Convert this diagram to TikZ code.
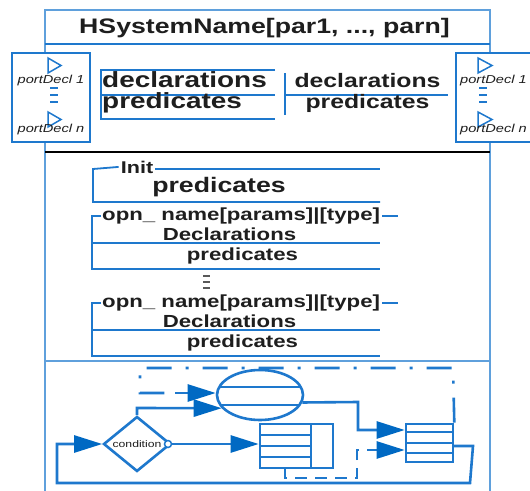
\documentclass[tikz,border=0pt]{standalone}
\usepackage{fontspec}
\setmainfont{Liberation Sans}
\newfontfamily\wf[FakeStretch=1.27]{Liberation Sans}
\usetikzlibrary{arrows.meta,shapes.geometric}
\definecolor{lb}{RGB}{30,120,205}
\definecolor{fr}{RGB}{95,160,220}
\definecolor{ab}{RGB}{0,105,195}
\definecolor{tx}{RGB}{30,30,30}
\newcommand{\fsz}[1]{\fontsize{#1pt}{#1pt}\selectfont}
\begin{document}
\begin{tikzpicture}[x=1pt,y=-1pt,
  ln/.style={draw=lb,line width=1.8pt},
  dl/.style={draw=lb,line width=2.6pt},
  arr/.style={draw=lb,line width=2.6pt,-{Triangle[length=28pt 0,width=17pt 0,color=ab]}},
  tb/.style={font=\wf\bfseries, inner sep=0pt, text=tx},
  tbox/.style={ln,fill=white,inner sep=0pt},
  tri/.style={draw=lb,line width=1.5pt},
  shortdash/.style={draw=lb,line width=1.5pt}
]
\clip (0,0) rectangle (530,490);
\fill[white] (0,0) rectangle (530,490);
% frame
\draw[fr,line width=2pt] (45,10) rectangle (490,500);
\draw[lb,line width=1.5pt] (45,44) -- (490,44);
\draw[black,line width=1.5pt] (45,152) -- (490,152);
\draw[fr,line width=1.5pt] (45,361) -- (490,361);
\node[tb,font=\wf\bfseries\fsz{21},anchor=base] (title) at (264.5,33) {HSystemName[par1, ..., parn]};

% port boxes
\node[tbox,minimum width=78,minimum height=89] (pl) at (51,97.5) {};
\node[tbox,minimum width=84,minimum height=89] (pr) at (498,97.5) {};
\draw[tri] (48,58) -- (61,65.5) -- (48,73) -- cycle;
\draw[tri] (48,112) -- (61,119.5) -- (48,127) -- cycle;
\draw[tri] (478,58) -- (492,65.5) -- (478,73) -- cycle;
\draw[tri] (478,112) -- (492,119.5) -- (478,127) -- cycle;
\foreach \yy in {88,95,102} {\draw[shortdash] (50,\yy) -- (58,\yy); \draw[shortdash] (479,\yy) -- (487,\yy);}
\node[font=\wf\itshape\fsz{11.5},text=tx,inner sep=0pt] (pl1) at (51,81) {portDecl 1};
\node[font=\wf\itshape\fsz{11.5},text=tx,inner sep=0pt] (pln) at (51,130) {portDecl n};
\node[font=\wf\itshape\fsz{11.5},text=tx,inner sep=0pt,anchor=west] (pr1) at (460,81) {portDecl 1};
\node[font=\wf\itshape\fsz{11.5},text=tx,inner sep=0pt,anchor=west] (prn) at (460,130) {portDecl n};

% left schema
\draw[ln] (275,70) -- (101,70) -- (101,119) -- (275,119);
\draw[ln] (101,95) -- (275,95);
\node[tb,font=\wf\bfseries\fsz{22},anchor=base west] (d1) at (102,87) {declarations};
\node[tb,font=\wf\bfseries\fsz{22},anchor=base west] (p1) at (102,108) {predicates};
% right schema
\draw[ln] (285,73) -- (285,115);
\draw[ln] (285,95) -- (448,95);
\node[tb,font=\wf\bfseries\fsz{19.5},anchor=base] (d2) at (367.5,87) {declarations};
\node[tb,font=\wf\bfseries\fsz{19.5},anchor=base] (p2) at (367.5,108) {predicates};

% Init schema
\node[tb,font=\wf\bfseries\fsz{17},anchor=base] (init) at (137,173) {Init};
\draw[ln] (init.west) ++(-2,0) -- (93,169) -- (93,202) -- (380,202);
\draw[ln] (155,169) -- (380,169);
\node[tb,font=\wf\bfseries\fsz{21},anchor=base] (ip) at (219,192) {predicates};

% operation schemas
\foreach \t/\nm in {216/a,303/b} {
  \node[tb,font=\wf\bfseries\fsz{17.5},anchor=west] (op\nm) at (102,\t) {opn\_ name[params]|[type]};
  \draw[ln] (op\nm.west) ++(-1,0) -- (92,\t) -- (92,\t+53) -- (380,\t+53);
  \draw[ln] (op\nm.east) ++(2,0) -- (398,\t);
  \draw[ln] (92,\t+27) -- (380,\t+27);
  \node[tb,font=\wf\bfseries\fsz{17.5},anchor=base] (dc\nm) at (229.5,\t+24) {Declarations};
  \node[tb,font=\wf\bfseries\fsz{17.5},anchor=base] (pc\nm) at (242.5,\t+44) {predicates};
}
\foreach \yy in {276,282,288} {\draw[gray!70!black,line width=1.2pt] (203,\yy) -- (210,\yy);}

% bottom diagram
\node[ellipse,dl,minimum width=86,minimum height=50,inner sep=0pt] (el) at (260,395) {};
\draw[dl] (220,387) -- (300,387);
\draw[dl] (221,405) -- (299,405);
\node[diamond,dl,minimum width=67,minimum height=55,inner sep=0pt,aspect=1.2,
      font=\wf\fsz{9.6},text=tx] (dia) at (137,444) {condition};
\node[circle,draw=lb,line width=1.5pt,fill=white,minimum size=7,inner sep=0pt] (oc) at (168,444) {};
% left table
\node[dl,rectangle,minimum width=73,minimum height=44,inner sep=0pt] (lt) at (296.5,446) {};
\draw[dl] (311,424) -- (311,468);
\foreach \yy in {435,446,457} {\draw[dl] (260,\yy) -- (311,\yy);}
% right table
\node[dl,rectangle,minimum width=47,minimum height=38,inner sep=0pt] (rt) at (429.5,443) {};
\foreach \yy in {432,443,453} {\draw[dl] (406,\yy) -- (454,\yy);}

\coordinate (c1) at (453,368);
\coordinate (c2) at (140,368);
\coordinate (c3) at (140,393);
\draw[dl,dash pattern=on 25pt off 14pt on 3pt off 14pt] (rt.north east) -- (c1) -- (c2) -- (c3) -- (175,393);
\draw[arr] (175,393) -- (c3 -| el.west);

\coordinate (c4) at (137,408);
\draw[arr] (dia.north) -- (c4) -- (el.199);

\draw[arr] (oc.east) -- (lt.west |- oc.east);

\coordinate (c5) at (358,402);
\coordinate (c6) at (358,430);
\draw[arr] (el.-10) -- (c5) -- (c6) -- (rt.west |- c6);

\coordinate (c7) at (285,478);
\coordinate (c8) at (357,478);
\coordinate (c9) at (357,450);
\draw[dl,dash pattern=on 12pt off 8pt] (285,468) -- (c7) -- (c8) -- (c9) -- (375,450);
\draw[arr] (375,450) -- (rt.west |- c9);

\coordinate (l1) at (473,446);
\coordinate (l2) at (470,483);
\coordinate (l3) at (57,483);
\coordinate (l4) at (57,444);
\draw[arr] (453,446) -- (l1) -- (l2) -- (l3) -- (l4) -- (dia.west);
\end{tikzpicture}
\end{document}
